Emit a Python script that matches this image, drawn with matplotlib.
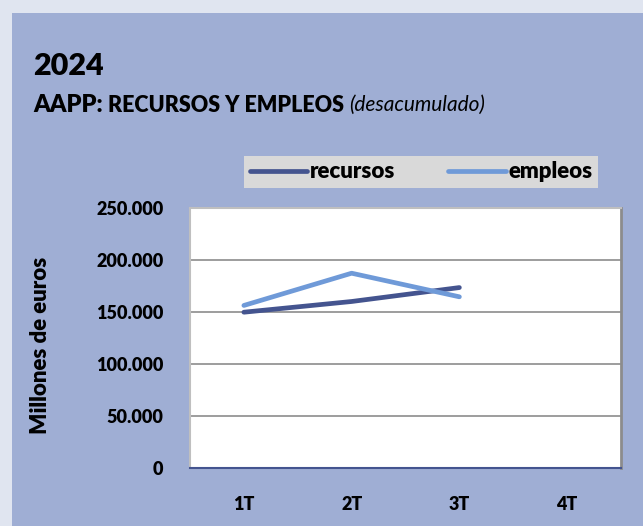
import matplotlib
matplotlib.use("Agg")
import matplotlib.pyplot as plt
from matplotlib.patches import Rectangle
from matplotlib.ticker import FuncFormatter

categories = ["1T", "2T", "3T", "4T"]
recursos = [149800, 160100, 173500]
empleos = [156300, 187300, 164600]
yticks = [0, 50000, 100000, 150000, 200000, 250000]

FONT = ["Lato", "DejaVu Sans"]
plt.rcParams['font.family'] = FONT
BW = "heavy"

W, H = 643, 526
fig = plt.figure(figsize=(W/100, H/100), dpi=100)
fig.patch.set_facecolor("#E0E5F0")
panel = Rectangle((12/W, 0), 1 - 12/W, 1 - 13/H, transform=fig.transFigure,
                  facecolor="#9FAED4", edgecolor="none", zorder=-10)
fig.patches.append(panel)

ax = fig.add_axes([190/W, 1 - 468/H, (621-190)/W, (468-208)/H])
ax.set_zorder(1)
ax.set_facecolor("white")
x = list(range(len(categories)))
l1, = ax.plot(x[:len(recursos)], recursos, color="#44548F", lw=3.4,
              solid_capstyle="round", label="recursos", zorder=3)
l2, = ax.plot(x[:len(empleos)], empleos, color="#6F9AD8", lw=3.4,
              solid_capstyle="round", label="empleos", zorder=3)
ax.set_xlim(-0.5, 3.5)
ax.set_ylim(0, 250000)
ax.set_yticks(yticks)
ax.yaxis.set_major_formatter(FuncFormatter(lambda v, p: f"{int(v):,}".replace(",", ".")))
ax.set_xticks(x)
ax.set_xticklabels(categories)
ax.grid(axis="y", color="#8C8C8C", lw=1.2)
ax.set_axisbelow(True)
ax.tick_params(length=0, labelsize=13)
ax.tick_params(axis="y", pad=19)
ax.tick_params(axis="x", pad=20)
for lab in ax.get_xticklabels() + ax.get_yticklabels():
    lab.set_fontweight(BW)
for s in ["left", "top"]:
    ax.spines[s].set_color("#BFBFBF")
    ax.spines[s].set_linewidth(1.5)
ax.spines["right"].set_color("#8C8C8C")
ax.spines["right"].set_linewidth(2)
ax.spines["bottom"].set_color("#44548F")
ax.spines["bottom"].set_linewidth(1.5)

ax.set_ylabel("Millones de euros", fontsize=16, fontweight=BW)
ax.yaxis.set_label_coords(-139/431, 0.47)

fig.text(33/W, 1 - 66/H, "2024", fontsize=22, fontweight=BW, va="center")
t = fig.text(33/W, 1 - 105/H, "AAPP: ", fontsize=17, fontweight=BW, va="center")
fig.canvas.draw()
r = fig.canvas.get_renderer()
bb = t.get_window_extent(r)
t2 = fig.text(bb.x1/W, 1 - 105/H, "RECURSOS Y EMPLEOS ", fontsize=15.5, fontweight=BW, va="center")
bb2 = t2.get_window_extent(r)
fig.text(bb2.x1/W, 1 - 105/H, "(desacumulado)", fontsize=15, style="italic", va="center")

leg = fig.legend(handles=[l1, l2], loc="center", ncol=2,
                 bbox_to_anchor=(421/W, 1 - 172/H), frameon=True, fancybox=False,
                 prop={"family": FONT, "weight": BW, "size": 16},
                 handlelength=2.6, handletextpad=0.1, columnspacing=2.4,
                 borderpad=0.25, borderaxespad=0)
leg.get_frame().set_facecolor("#D9D9D9")
leg.get_frame().set_edgecolor("none")
leg.get_frame().set_alpha(1)

fig.savefig("out.png", dpi=100, facecolor=fig.get_facecolor())
